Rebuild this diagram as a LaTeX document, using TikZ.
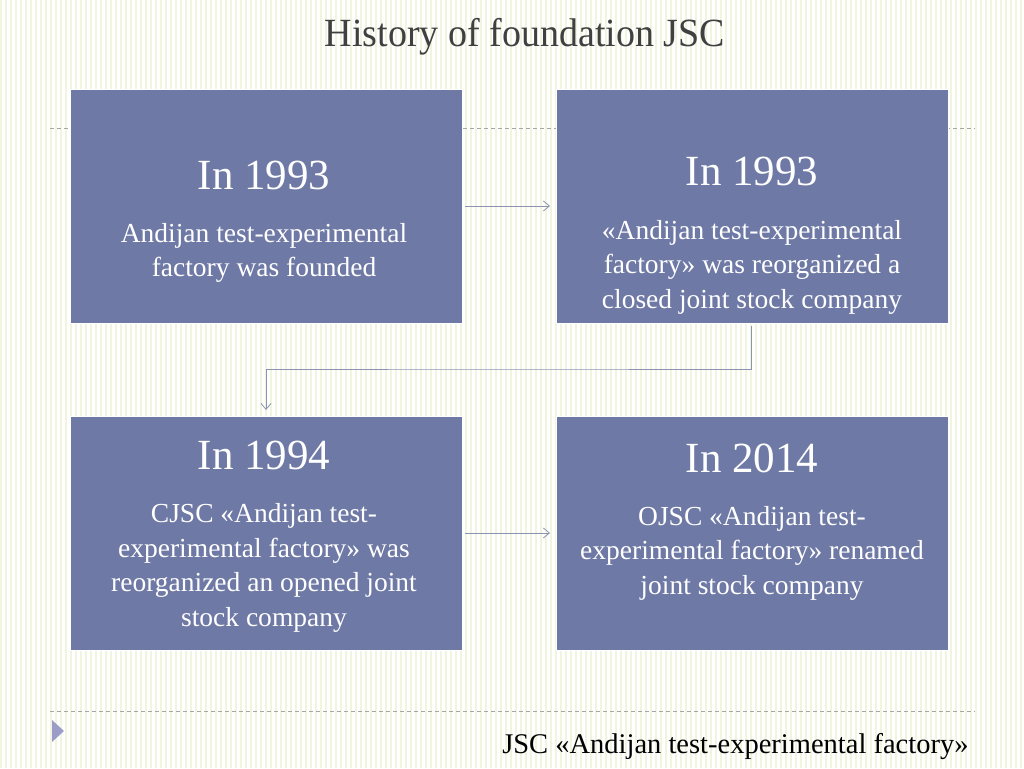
\documentclass[tikz,border=0pt]{standalone}
\usepackage{fontspec}
\setmainfont{Liberation Serif}
\usetikzlibrary{arrows.meta}
\definecolor{boxc}{HTML}{6E79A5}
\definecolor{stripe}{HTML}{F1F5E0}
\definecolor{arr}{HTML}{8A94B0}
\begin{document}
\begin{tikzpicture}[x=1pt,y=-1pt,
  box/.style={fill=boxc,draw=white,line width=0.8pt,minimum width=392pt,minimum height=234pt,anchor=north west},
  yr/.style={text=white,font=\fontsize{43}{48}\selectfont},
  desc/.style={text=white,font=\fontsize{27.5}{34.5}\selectfont,align=center},
  conn/.style={draw=arr,line width=0.8pt,-{Straight Barb[length=6pt,width=10pt]}}]
\useasboundingbox (0,0) rectangle (1024,768);
\fill[white] (0,0) rectangle (1024,768);
\foreach \i in {0,...,204}{\fill[stripe] (\i*5,0) rectangle (\i*5+2.2,768);}
\draw[gray!70,dashed,line width=0.8pt,dash pattern=on 4pt off 3pt] (50,128) -- (975,128);
\draw[gray!70,dashed,line width=0.8pt,dash pattern=on 4pt off 3pt] (50,711) -- (975,711);
\fill[blue!30!gray!60] (52,720) -- (64,731) -- (52,742) -- cycle;
\node[text=black!75,font=\fontsize{40}{44}\selectfont,xscale=0.95] (title) at (525,37) {History of foundation JSC};
\node[box] (b1) at (70,89) {};
\node[box] (b2) at (556,89) {};
\node[box] (b3) at (70,416) {};
\node[box] (b4) at (556,416) {};
\node[yr] (y1) at (264,175) {In 1993};
\node[desc] (d1) at (264,253) {Andijan test-experimental\\factory was founded};
\node[yr] (y2) at (752,171) {In 1993};
\node[desc] (d2) at (752,267) {«Andijan test-experimental\\factory» was reorganized a\\closed joint stock company};
\node[yr] (y3) at (264,455) {In 1994};
\node[desc] (d3) at (264,568) {CJSC «Andijan test-\\experimental factory» was\\reorganized an opened joint\\stock company};
\node[yr] (y4) at (752,458) {In 2014};
\node[desc] (d4) at (752,553) {OJSC «Andijan test-\\experimental factory» renamed\\joint stock company};
\node[font=\fontsize{28.5}{32}\selectfont,anchor=east] (foot) at (972,747) {JSC «Andijan test-experimental factory»};
\coordinate (a1) at (465,206); \coordinate (a2) at (550,206);
\draw[conn] (a1) -- (a2);
\coordinate (c1) at (751,326); \coordinate (c2) at (266,410);
\draw[conn] (c1) |- (508,369) -| (c2);
\coordinate (e1) at (465,533); \coordinate (e2) at (550,533);
\draw[conn] (e1) -- (e2);
\end{tikzpicture}
\end{document}
